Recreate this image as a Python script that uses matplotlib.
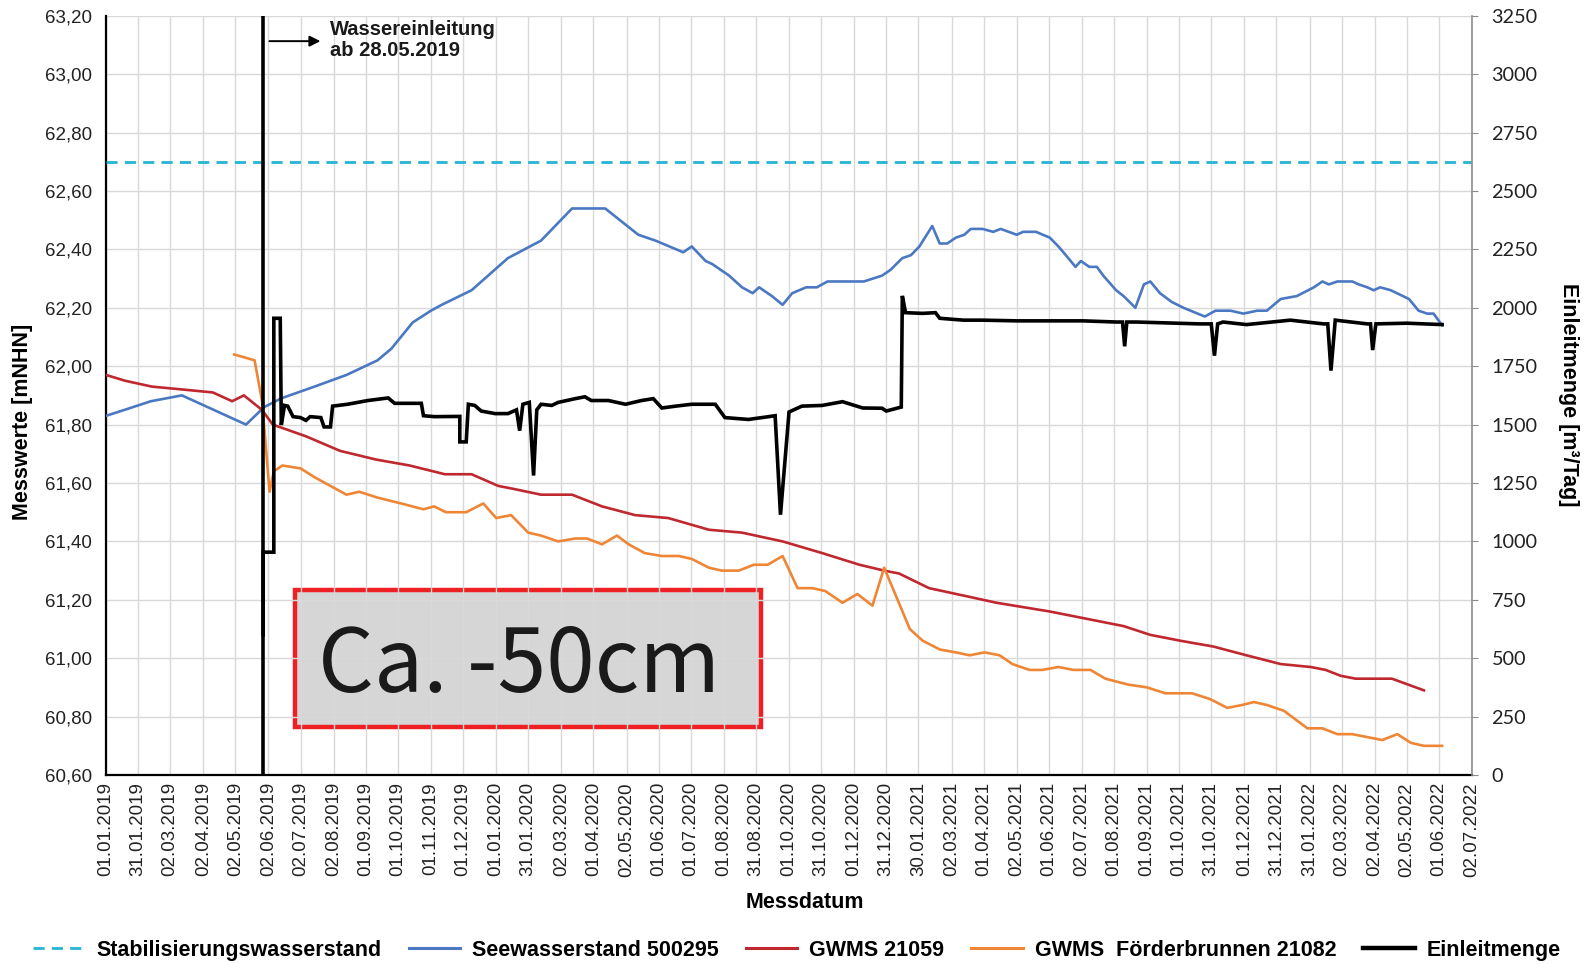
import matplotlib
matplotlib.use("Agg")
import matplotlib.pyplot as plt
import pandas as pd
from matplotlib.patches import Rectangle
from matplotlib.lines import Line2D

plt.rcParams['font.family'] = ['Liberation Sans', 'DejaVu Sans']

# --- data ---
STAB_LEVEL = 62.70
EINLEITUNG_START = "2019-05-28"

SEE_DATES = ["2019-01-01", "2019-01-18", "2019-02-12", "2019-03-13", "2019-04-12", "2019-05-12",
             "2019-05-29", "2019-06-14", "2019-07-15", "2019-08-14", "2019-09-12", "2019-09-25",
             "2019-10-15", "2019-11-01", "2019-11-11", "2019-12-09", "2020-01-12", "2020-02-12",
             "2020-03-12", "2020-04-12", "2020-05-13", "2020-05-29", "2020-06-24", "2020-07-02",
             "2020-07-15", "2020-07-21", "2020-08-06", "2020-08-18", "2020-08-28", "2020-09-03",
             "2020-09-15", "2020-09-25", "2020-10-04", "2020-10-17", "2020-10-27", "2020-11-06",
             "2020-12-10", "2020-12-27", "2021-01-04", "2021-01-15", "2021-01-23", "2021-01-31",
             "2021-02-12", "2021-02-19", "2021-02-26", "2021-03-06", "2021-03-14", "2021-03-20",
             "2021-03-31", "2021-04-10", "2021-04-17", "2021-05-02", "2021-05-08", "2021-05-20",
             "2021-06-02", "2021-06-10", "2021-06-17", "2021-06-26", "2021-07-01", "2021-07-09",
             "2021-07-16", "2021-07-22", "2021-08-03", "2021-08-10", "2021-08-21", "2021-08-29",
             "2021-09-04", "2021-09-13", "2021-09-24", "2021-10-05", "2021-10-25", "2021-11-04",
             "2021-11-18", "2021-11-30", "2021-12-13", "2021-12-22", "2022-01-04", "2022-01-19",
             "2022-02-04", "2022-02-12", "2022-02-18", "2022-02-26", "2022-03-12", "2022-03-18",
             "2022-03-26", "2022-04-01", "2022-04-07", "2022-04-17", "2022-05-04", "2022-05-13",
             "2022-05-21", "2022-05-27", "2022-06-04"]
SEE_VALUES = [61.83, 61.85, 61.88, 61.90, 61.85, 61.80,
              61.86, 61.89, 61.93, 61.97, 62.02, 62.06,
              62.15, 62.19, 62.21, 62.26, 62.37, 62.43,
              62.54, 62.54, 62.45, 62.43, 62.39, 62.41,
              62.36, 62.35, 62.31, 62.27, 62.25, 62.27,
              62.24, 62.21, 62.25, 62.27, 62.27, 62.29,
              62.29, 62.31, 62.33, 62.37, 62.38, 62.41,
              62.48, 62.42, 62.42, 62.44, 62.45, 62.47,
              62.47, 62.46, 62.47, 62.45, 62.46, 62.46,
              62.44, 62.41, 62.38, 62.34, 62.36, 62.34,
              62.34, 62.31, 62.26, 62.24, 62.20, 62.28,
              62.29, 62.25, 62.22, 62.20, 62.17, 62.19,
              62.19, 62.18, 62.19, 62.19, 62.23, 62.24,
              62.27, 62.29, 62.28, 62.29, 62.29, 62.28,
              62.27, 62.26, 62.27, 62.26, 62.23, 62.19,
              62.18, 62.18, 62.14]

GWMS_DATES = ["2019-01-01", "2019-01-19", "2019-02-13", "2019-03-14", "2019-04-11", "2019-04-29",
              "2019-05-10", "2019-05-27", "2019-06-06", "2019-07-07", "2019-08-08", "2019-09-11",
              "2019-10-12", "2019-11-14", "2019-12-09", "2020-01-03", "2020-01-17", "2020-02-12",
              "2020-03-12", "2020-04-09", "2020-05-10", "2020-06-10", "2020-07-18", "2020-08-18",
              "2020-09-25", "2020-11-01", "2020-12-06", "2020-12-29", "2021-01-12", "2021-02-09",
              "2021-03-19", "2021-04-13", "2021-06-02", "2021-08-10", "2021-09-04", "2021-10-02",
              "2021-11-02", "2021-12-03", "2022-01-04", "2022-02-01", "2022-02-15", "2022-03-01",
              "2022-03-15", "2022-04-18", "2022-05-18"]
GWMS_VALUES = [61.97, 61.95, 61.93, 61.92, 61.91, 61.88,
               61.90, 61.85, 61.80, 61.76, 61.71, 61.68,
               61.66, 61.63, 61.63, 61.59, 61.58, 61.56,
               61.56, 61.52, 61.49, 61.48, 61.44, 61.43,
               61.40, 61.36, 61.32, 61.30, 61.29, 61.24,
               61.21, 61.19, 61.16, 61.11, 61.08, 61.06,
               61.04, 61.01, 60.98, 60.97, 60.96, 60.94,
               60.93, 60.93, 60.89]

FOERDER_DATES = ["2019-05-01", "2019-05-20", "2019-05-27", "2019-06-03", "2019-06-07", "2019-06-15",
                 "2019-07-02", "2019-07-15", "2019-07-30", "2019-08-14", "2019-08-26", "2019-09-12",
                 "2019-10-04", "2019-10-25", "2019-11-04", "2019-11-15", "2019-11-26", "2019-12-04",
                 "2019-12-20", "2020-01-01", "2020-01-15", "2020-01-31", "2020-02-12", "2020-02-28",
                 "2020-03-15", "2020-03-26", "2020-04-09", "2020-04-23", "2020-05-04", "2020-05-19",
                 "2020-06-04", "2020-06-20", "2020-07-02", "2020-07-18", "2020-07-30", "2020-08-15",
                 "2020-08-29", "2020-09-11", "2020-09-25", "2020-10-09", "2020-10-23", "2020-11-04",
                 "2020-11-20", "2020-12-04", "2020-12-18", "2020-12-29", "2021-01-22", "2021-02-03",
                 "2021-02-19", "2021-03-06", "2021-03-19", "2021-04-02", "2021-04-16", "2021-04-28",
                 "2021-05-14", "2021-05-26", "2021-06-10", "2021-06-24", "2021-07-10", "2021-07-24",
                 "2021-08-14", "2021-09-01", "2021-09-18", "2021-10-13", "2021-10-30", "2021-11-15",
                 "2021-11-29", "2021-12-10", "2021-12-22", "2022-01-07", "2022-01-29", "2022-02-12",
                 "2022-02-26", "2022-03-12", "2022-03-26", "2022-04-09", "2022-04-23", "2022-05-06",
                 "2022-05-18", "2022-06-04"]
FOERDER_VALUES = [62.04, 62.02, 61.88, 61.57, 61.64, 61.66,
                  61.65, 61.62, 61.59, 61.56, 61.57, 61.55,
                  61.53, 61.51, 61.52, 61.50, 61.50, 61.50,
                  61.53, 61.48, 61.49, 61.43, 61.42, 61.40,
                  61.41, 61.41, 61.39, 61.42, 61.39, 61.36,
                  61.35, 61.35, 61.34, 61.31, 61.30, 61.30,
                  61.32, 61.32, 61.35, 61.24, 61.24, 61.23,
                  61.19, 61.22, 61.18, 61.31, 61.10, 61.06,
                  61.03, 61.02, 61.01, 61.02, 61.01, 60.98,
                  60.96, 60.96, 60.97, 60.96, 60.96, 60.93,
                  60.91, 60.90, 60.88, 60.88, 60.86, 60.83,
                  60.84, 60.85, 60.84, 60.82, 60.76, 60.76,
                  60.74, 60.74, 60.73, 60.72, 60.74, 60.71,
                  60.70, 60.70]

EIN_DATES = ["2019-05-28", "2019-05-28", "2019-06-07", "2019-06-07", "2019-06-13", "2019-06-14",
             "2019-06-17", "2019-06-20", "2019-06-25", "2019-07-02", "2019-07-07", "2019-07-11",
             "2019-07-21", "2019-07-24", "2019-07-30", "2019-08-01", "2019-08-15", "2019-09-03",
             "2019-09-22", "2019-09-28", "2019-10-23", "2019-10-25", "2019-11-04", "2019-11-28",
             "2019-11-28", "2019-12-04", "2019-12-06", "2019-12-12", "2019-12-18", "2019-12-31",
             "2020-01-12", "2020-01-20", "2020-01-23", "2020-01-26", "2020-02-01", "2020-02-05",
             "2020-02-08", "2020-02-12", "2020-02-22", "2020-02-28", "2020-03-15", "2020-03-24",
             "2020-03-30", "2020-04-15", "2020-05-01", "2020-05-16", "2020-05-27", "2020-06-04",
             "2020-06-17", "2020-07-02", "2020-07-24", "2020-08-02", "2020-08-24", "2020-09-12",
             "2020-09-18", "2020-09-23", "2020-10-01", "2020-10-13", "2020-11-01", "2020-11-20",
             "2020-12-09", "2020-12-27", "2020-12-31", "2021-01-14", "2021-01-15", "2021-01-18",
             "2021-02-03", "2021-02-15", "2021-02-19", "2021-03-13", "2021-03-31", "2021-05-02",
             "2021-06-02", "2021-07-03", "2021-08-03", "2021-08-09", "2021-08-11", "2021-08-13",
             "2021-08-22", "2021-10-20", "2021-10-31", "2021-11-03", "2021-11-06", "2021-11-11",
             "2021-12-03", "2022-01-13", "2022-02-13", "2022-02-17", "2022-02-20", "2022-02-24",
             "2022-03-26", "2022-03-29", "2022-03-31", "2022-04-03", "2022-05-02", "2022-06-04"]
EIN_VALUES = [600, 954, 954, 1955, 1955, 1498,
              1582, 1579, 1534, 1530, 1518, 1534,
              1530, 1490, 1490, 1579, 1587, 1603,
              1614, 1591, 1591, 1538, 1534, 1535,
              1426, 1426, 1587, 1582, 1558, 1547,
              1547, 1563, 1474, 1587, 1595, 1282,
              1563, 1587, 1582, 1595, 1611, 1619,
              1603, 1603, 1587, 1603, 1611, 1571,
              1579, 1587, 1587, 1530, 1522, 1534,
              1538, 1114, 1554, 1579, 1582, 1598,
              1571, 1570, 1558, 1575, 2051, 1979,
              1976, 1979, 1955, 1947, 1947, 1944,
              1944, 1944, 1939, 1939, 1835, 1939,
              1939, 1931, 1931, 1795, 1931, 1939,
              1928, 1947, 1931, 1931, 1731, 1947,
              1931, 1931, 1819, 1931, 1934, 1928]

X_TICK_LABELS = ["01.01.2019", "31.01.2019", "02.03.2019", "02.04.2019", "02.05.2019", "02.06.2019",
                 "02.07.2019", "02.08.2019", "01.09.2019", "01.10.2019", "01.11.2019", "01.12.2019",
                 "01.01.2020", "31.01.2020", "02.03.2020", "01.04.2020", "02.05.2020", "01.06.2020",
                 "01.07.2020", "01.08.2020", "31.08.2020", "01.10.2020", "31.10.2020", "01.12.2020",
                 "31.12.2020", "30.01.2021", "02.03.2021", "01.04.2021", "02.05.2021", "01.06.2021",
                 "02.07.2021", "01.08.2021", "01.09.2021", "01.10.2021", "31.10.2021", "01.12.2021",
                 "31.12.2021", "31.01.2022", "02.03.2022", "02.04.2022", "02.05.2022", "01.06.2022",
                 "02.07.2022"]
LEFT_TICKS = [60.6 + 0.2 * i for i in range(14)]
RIGHT_TICKS = list(range(0, 3251, 250))

C_STAB = "#25B5D3"
C_SEE = "#4A78C2"
C_GWMS = "#C0282F"
C_FOERDER = "#EE8636"
GRID = "#D9D9D9"
LABEL_SIZE = 15.5

fig = plt.figure(figsize=(15.94, 9.64), dpi=100)
ax = fig.add_axes([0.0665, 0.196, 0.857, 0.7877])
ax2 = ax.twinx()

see_x = pd.to_datetime(SEE_DATES)
gw_x = pd.to_datetime(GWMS_DATES)
fb_x = pd.to_datetime(FOERDER_DATES)
ein_x = pd.to_datetime(EIN_DATES)
tick_x = pd.to_datetime(X_TICK_LABELS, format="%d.%m.%Y")

ax.axhline(STAB_LEVEL, color=C_STAB, lw=2.0, dashes=(4, 2.6), zorder=3)
ax.plot(see_x, SEE_VALUES, color=C_SEE, lw=1.9, zorder=3)
ax.plot(gw_x, GWMS_VALUES, color=C_GWMS, lw=1.9, zorder=3)
ax.plot(fb_x, FOERDER_VALUES, color=C_FOERDER, lw=1.9, zorder=3)
ax.axvline(pd.Timestamp(EINLEITUNG_START), color="black", lw=2.6, zorder=4)
ax2.plot(ein_x, EIN_VALUES, color="black", lw=2.6, solid_joinstyle="miter")

ax.set_xlim(tick_x[0], tick_x[-1])
ax.set_ylim(60.6, 63.2)
ax2.set_ylim(0, 3250)

ax.set_xticks(tick_x)
ax.set_xticklabels(X_TICK_LABELS, rotation=90, fontsize=13.5)
ax.set_yticks(LEFT_TICKS)
ax.set_yticklabels([f"{v:.2f}".replace(".", ",") for v in LEFT_TICKS], fontsize=13.5)
ax2.set_yticks(RIGHT_TICKS)
ax2.set_yticklabels([str(v) for v in RIGHT_TICKS], fontsize=14.3, family=["Lato", "DejaVu Sans"])

ax.grid(True, color=GRID, lw=1.0)
ax.tick_params(axis="both", length=0, colors="#222222")
ax.tick_params(axis="y", pad=10)
ax.tick_params(axis="x", pad=5)
ax2.tick_params(axis="y", length=4, color="#8C8C8C", pad=10, labelcolor="#222222")

for a in (ax, ax2):
    a.spines["top"].set_visible(False)
ax.spines["left"].set_color("black")
ax.spines["left"].set_linewidth(1.6)
ax.spines["bottom"].set_color("black")
ax.spines["bottom"].set_linewidth(1.6)
ax.spines["right"].set_visible(False)
ax2.spines["left"].set_visible(False)
ax2.spines["bottom"].set_visible(False)
ax2.spines["right"].set_color("#8C8C8C")
ax2.spines["right"].set_linewidth(1.2)

# annotation box
ax.add_patch(Rectangle((0.1385, 0.063), 0.341, 0.1806, transform=ax.transAxes,
                       facecolor="#D6D6D6", edgecolor="#EE2024", lw=3.2, zorder=1.2))
ax.text(0.155, 0.1098, "Ca. -50cm", transform=ax.transAxes, fontsize=63,
        family=["Noto Sans CJK JP", "DejaVu Sans"], color="#1A1A1A", va="baseline", zorder=5)

ax.annotate("", xy=(0.159, 0.9665), xytext=(0.1176, 0.9665), xycoords=ax.transAxes,
            arrowprops=dict(arrowstyle="-|>", color="black", lw=1.4, mutation_scale=16))
ax.text(0.1638, 0.968, "Wassereinleitung\nab 28.05.2019", transform=ax.transAxes,
        fontsize=14.5, fontweight="bold", va="center", ha="left", linespacing=1.15, color="#1A1A1A")

fig.text(0.014, 0.562, "Messwerte [mNHN]", rotation=90, ha="center", va="center",
         fontsize=LABEL_SIZE, fontweight="bold")
fig.text(0.984, 0.590, "Einleitmenge [m³/Tag]", rotation=270, ha="center", va="center",
         fontsize=LABEL_SIZE, fontweight="bold")
fig.text(0.505, 0.064, "Messdatum", ha="center", va="center", fontsize=LABEL_SIZE, fontweight="bold")

handles = [
    Line2D([], [], color=C_STAB, lw=2.0, dashes=(4, 2.6)),
    Line2D([], [], color=C_SEE, lw=2.2),
    Line2D([], [], color=C_GWMS, lw=2.2),
    Line2D([], [], color=C_FOERDER, lw=2.2),
    Line2D([], [], color="black", lw=3.2),
]
labels = ["Stabilisierungswasserstand", "Seewasserstand 500295", "GWMS 21059",
          "GWMS  Förderbrunnen 21082", "Einleitmenge"]
fig.legend(handles, labels, loc="center", bbox_to_anchor=(0.5, 0.014), ncol=5, frameon=False,
           prop={"weight": "bold", "size": LABEL_SIZE}, handlelength=2.4, handletextpad=0.55,
           columnspacing=1.25)

fig.savefig("out.png", dpi=100)
